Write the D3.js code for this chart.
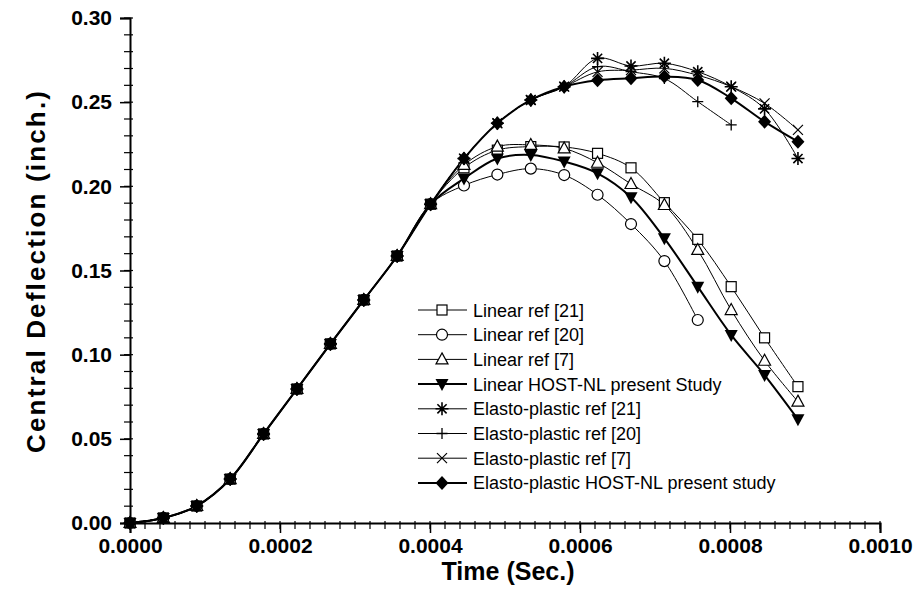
<!DOCTYPE html>
<html><head><meta charset="utf-8">
<script src="https://cdn.jsdelivr.net/npm/d3@7/dist/d3.min.js"></script>
<style>body{margin:0;background:#fff}svg{display:block}</style>
</head><body><svg id="c" width="913" height="604"></svg>
<script>
// ---- data ----
const times = [0.0000000,0.0000445,0.0000890,0.0001336,0.0001781,0.0002226,0.0002672,0.0003117,0.0003562,0.0004008,0.0004453,0.0004898,0.0005344,0.0005789,0.0006234,0.0006680,0.0007125,0.0007570,0.0008016,0.0008461,0.0008906];
const linRef21   = [0,0.0030,0.0101,0.0261,0.0529,0.0796,0.1064,0.1325,0.1586,0.1894,0.2110,0.2215,0.2236,0.2234,0.2196,0.2110,0.1903,0.1685,0.1404,0.1100,0.0810];
const linRef20   = [0,0.0030,0.0101,0.0261,0.0529,0.0796,0.1064,0.1325,0.1586,0.1894,0.2005,0.2070,0.2105,0.2067,0.1950,0.1776,0.1556,0.1206];
const linRef7    = [0,0.0030,0.0101,0.0261,0.0529,0.0796,0.1064,0.1325,0.1586,0.1894,0.2127,0.2236,0.2246,0.2225,0.2140,0.2014,0.1889,0.1622,0.1265,0.0964,0.0721];
const linPresent = [0,0.0030,0.0101,0.0261,0.0529,0.0796,0.1064,0.1325,0.1586,0.1894,0.2046,0.2165,0.2186,0.2147,0.2077,0.1935,0.1691,0.1404,0.1117,0.0879,0.0616];
const epRef21    = [0,0.0030,0.0101,0.0261,0.0529,0.0796,0.1064,0.1325,0.1586,0.1894,0.2165,0.2375,0.2513,0.2592,0.2760,0.2715,0.2731,0.2681,0.2592,0.2460,0.2165];
const epRef20    = [0,0.0030,0.0101,0.0261,0.0529,0.0796,0.1064,0.1325,0.1586,0.1894,0.2165,0.2375,0.2513,0.2592,0.2711,0.2681,0.2640,0.2503,0.2365];
const epRef7     = [0,0.0030,0.0101,0.0261,0.0529,0.0796,0.1064,0.1325,0.1586,0.1894,0.2165,0.2375,0.2513,0.2592,0.2680,0.2690,0.2701,0.2660,0.2592,0.2493,0.2335];
const epPresent  = [0,0.0030,0.0101,0.0261,0.0529,0.0796,0.1064,0.1325,0.1586,0.1894,0.2165,0.2375,0.2513,0.2592,0.2630,0.2642,0.2652,0.2632,0.2523,0.2384,0.2265];
const seriesNames = ["Linear ref [21]","Linear ref [20]","Linear ref [7]","Linear HOST-NL present Study","Elasto-plastic ref [21]","Elasto-plastic ref [20]","Elasto-plastic ref [7]","Elasto-plastic HOST-NL present study"];
const seriesValues = [linRef21,linRef20,linRef7,linPresent,epRef21,epRef20,epRef7,epPresent];
const seriesMarkers = ["square","circle","triangle","tridown","star","plus","cross","diamond"];
const seriesWidth = [1,1,1,2,1,1,1,2];
const xTicks = [0,0.0002,0.0004,0.0006,0.0008,0.0010];
const yTicks = [0,0.05,0.10,0.15,0.20,0.25,0.30];

// ---- layout ----
const svg = d3.select("#c");
const x = d3.scaleLinear().domain([0,0.0010]).range([130,880]);
const y = d3.scaleLinear().domain([0,0.30]).range([523,18]);
const font = "'Liberation Sans', Arial, sans-serif";

// minor ticks
const xMinor = d3.range(0,51).map(i=>i*0.00002);
const yMinor = d3.range(0,31).map(i=>i*0.01);
svg.append("g").selectAll("line").data(xMinor).join("line")
  .attr("x1",d=>x(d)).attr("x2",d=>x(d)).attr("y1",521).attr("y2",529)
  .attr("stroke","#000").attr("stroke-width",1.2);
svg.append("g").selectAll("line").data(yMinor).join("line")
  .attr("x1",124).attr("x2",133).attr("y1",d=>y(d)).attr("y2",d=>y(d))
  .attr("stroke","#000").attr("stroke-width",1.2);

const xAxis = svg.append("g").attr("transform","translate(0,523)")
  .call(d3.axisBottom(x).tickValues(xTicks).tickFormat(d3.format(".4f")).tickSize(10).tickPadding(5));
const yAxis = svg.append("g").attr("transform","translate(130,0)")
  .call(d3.axisLeft(y).tickValues(yTicks).tickFormat(d3.format(".2f")).tickSize(10).tickPadding(8));
[xAxis,yAxis].forEach(a=>{
  a.select(".domain").attr("stroke","#000").attr("stroke-width",2);
  a.selectAll(".tick line").attr("stroke","#000").attr("stroke-width",1.5);
  a.selectAll("text").attr("font-family",font).attr("font-weight","bold").attr("font-size",21).attr("fill","#000");
});

svg.append("text").attr("x",508).attr("y",580).attr("text-anchor","middle")
  .attr("font-family",font).attr("font-weight","bold").attr("font-size",25).text("Time (Sec.)");
svg.append("text").attr("transform","translate(45,272) rotate(-90)").attr("text-anchor","middle")
  .attr("font-family",font).attr("font-weight","bold").attr("font-size",26)
  .attr("textLength",362).attr("lengthAdjust","spacing").text("Central Deflection (inch.)");

// ---- markers ----
function drawMarker(g, type, cx, cy){
  const s = "#000";
  if(type==="square") g.append("rect").attr("x",cx-5).attr("y",cy-5).attr("width",10).attr("height",10).attr("fill","#fff").attr("stroke",s).attr("stroke-width",1.2);
  else if(type==="circle") g.append("circle").attr("cx",cx).attr("cy",cy).attr("r",5.5).attr("fill","#fff").attr("stroke",s).attr("stroke-width",1.2);
  else if(type==="triangle") g.append("path").attr("d",`M${cx},${cy-6.5}L${cx+6},${cy+4.5}L${cx-6},${cy+4.5}Z`).attr("fill","#fff").attr("stroke",s).attr("stroke-width",1.2);
  else if(type==="tridown") g.append("path").attr("d",`M${cx-6.5},${cy-5}L${cx+6.5},${cy-5}L${cx},${cy+7}Z`).attr("fill",s);
  else if(type==="diamond") g.append("path").attr("d",`M${cx},${cy-7}L${cx+6.5},${cy}L${cx},${cy+7}L${cx-6.5},${cy}Z`).attr("fill",s);
  else if(type==="star"){
    const r=6.5, d=4.6;
    g.append("path").attr("d",`M${cx},${cy-r}V${cy+r}M${cx-r},${cy}H${cx+r}M${cx-d},${cy-d}L${cx+d},${cy+d}M${cx-d},${cy+d}L${cx+d},${cy-d}`).attr("stroke",s).attr("stroke-width",1.6).attr("fill","none");
  }
  else if(type==="plus") g.append("path").attr("d",`M${cx},${cy-5.5}V${cy+5.5}M${cx-5.5},${cy}H${cx+5.5}`).attr("stroke",s).attr("stroke-width",1.3).attr("fill","none");
  else if(type==="cross") g.append("path").attr("d",`M${cx-5},${cy-5}L${cx+5},${cy+5}M${cx-5},${cy+5}L${cx+5},${cy-5}`).attr("stroke",s).attr("stroke-width",1.2).attr("fill","none");
}

const line = d3.line().x(d=>x(d[0])).y(d=>y(d[1])).curve(d3.curveCatmullRom.alpha(0.5));
const plot = svg.append("g");
seriesValues.forEach((vals,k)=>{
  const pts = vals.map((v,i)=>[times[i],v]);
  plot.append("path").attr("d",line(pts)).attr("fill","none").attr("stroke","#000").attr("stroke-width",seriesWidth[k]);
});
seriesValues.forEach((vals,k)=>{
  const g = plot.append("g");
  vals.forEach((v,i)=>drawMarker(g, seriesMarkers[k], x(times[i]), y(v)));
});

// ---- legend ----
const lg = svg.append("g");
seriesNames.forEach((name,k)=>{
  const yy = 310 + k*24.7;
  lg.append("line").attr("x1",418).attr("x2",467).attr("y1",yy).attr("y2",yy).attr("stroke","#000").attr("stroke-width",seriesWidth[k]);
  drawMarker(lg, seriesMarkers[k], 442, yy);
  lg.append("text").attr("x",473).attr("y",yy+6.5).attr("font-family",font).attr("font-size",18).attr("fill","#000").text(name);
});
</script></body></html>
